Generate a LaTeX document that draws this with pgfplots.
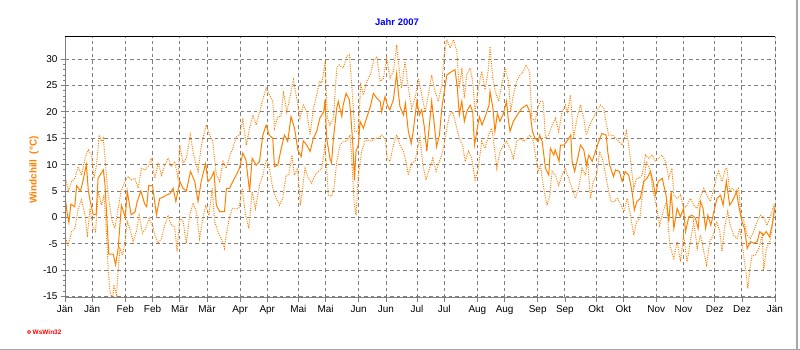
\documentclass[border=0pt]{standalone}
\usepackage{fontspec}
\setmainfont{Liberation Sans}
\usepackage{pgfplots}
\usepackage{pgfplotstable}
\pgfplotsset{compat=1.18}
\definecolor{wsorange}{RGB}{255,128,0}
\definecolor{gridgray}{RGB}{128,128,128}

\pgfplotstableread{
d v
0 4.2
1 1
2 -1
3 2.5
5 2
6 6
8 5
9 6.5
11 10
12 5
13 3
14.5 0.5
16 0.5
17 7.4
19.7 9
20.5 6.5
21.5 0
22.5 -7
24.8 -7
26 -9
27.3 -6
29 2.3
31 0
32 5
34 0.5
36 1
37 2.8
39 5
41 2.5
42 2
43 6
45 6
47 0.5
48.7 3.6
50.4 3.8
52 4.2
54 4.5
55.6 5.5
57 3
59 6.8
60.7 5.5
62.4 5
64.5 8.7
66.7 6.8
68.4 3
70 6.8
72.3 10.2
73.5 6.8
75 7.4
76.6 8.7
77.8 2.3
79.5 1.1
82 1.1
83 5.5
84.6 5.5
86.3 6.8
88 8
89.7 9.3
91.4 12.2
93 10.9
94.9 4.9
96.2 11.2
98.3 9.9
100 10.6
101.7 15.6
103.4 17.5
105 15.6
106.8 15
107.7 9.6
109.4 9.9
111 12.8
112.8 15.6
114.5 14.4
116.2 19.1
118 16.9
119.7 12.8
121.4 11.5
122.5 14.5
124.3 13.7
126 12.5
127.7 15
129.4 16.3
131 18.8
133 20
133.7 22.3
134.5 15
136.2 11.2
137 10.3
138 15
139.7 20.7
140.5 22
142.3 19.1
143 21.3
144.5 23.5
146.2 22.3
146.9 19.4
148 13.7
148.8 7
149.6 12.5
150.8 13.7
151.7 18.2
153.4 16.9
155 18.8
157 21
158.5 23.5
160.3 22.6
162 22
162.8 20
164.5 22.9
165.7 21.3
167 20.4
168.8 22.3
170.5 27.3
171.4 23.5
172.2 21
174 19.4
175 21.6
176.5 16.3
178 14
179 16.3
180.9 22
182.2 19.4
183.4 20.4
184.7 17.2
186 12.5
187 16.3
188.5 22
189.7 18.2
191 13.4
192.5 15.6
193.7 20.7
195 23.9
196.3 27
199 27.7
200.5 28
201.7 24.5
202.7 19.4
204 22
205.3 18.2
206.5 20
208.3 21.3
209.6 20
210.5 13.7
211.7 16.3
213 19.1
214.4 17.5
216 19.1
218 21.3
218.5 23.9
220 20.7
221 16.3
222.3 19.7
223.6 18.2
225.4 19.7
227 22
228 18.2
228.8 16.3
230.5 18.2
232.5 19.4
234.8 20.7
237.4 21.3
239 20
240.3 16.3
241.6 15
243.3 14.4
244 15.6
245.3 14.4
247 9.3
248.7 8
249.5 13.1
251.3 11.8
252 12.8
254 10.6
254.7 13.7
256.4 13.7
258 14.4
260 15.6
260.7 10.6
262 8.7
263.2 10.6
265 13.7
266.7 12.8
268 9.9
269.3 11.8
271 10.6
272.7 12.5
274.4 14.4
276 15.9
278.2 15.6
279 12.5
280 9.9
282 7.7
283 9
285 8.7
286.4 6.8
288 8.7
289.8 8
291.5 4.9
292.7 1.4
294 3
295.8 3.6
297.5 6.8
299.2 7.4
301 8.7
302.3 6.8
303.5 4.2
305 6.8
307 7.4
309 4.2
310.4 -0.8
311.6 4.9
313 -2.1
314.7 1.7
316.4 0.1
318 1.7
319 -2.7
320.7 0.1
322.4 0.4
324.1 -0.2
325.5 -2.1
326.7 3
328 1.7
329.3 -2.1
330.5 0.4
332 -1.5
333.6 1.1
335.2 3.6
337 4.2
338.3 2.3
340 6.8
341.7 2.3
343.8 3.6
345.2 4.9
346.3 2.3
348 -0.8
349.3 -2.1
350.7 -5.9
352.4 -4.6
354 -4.9
355.8 -4.6
357.2 -2.7
359 -3.4
360.5 -2.7
362.2 -3.7
363.5 -1.5
365 2
}\meantab

\pgfplotstableread{
d v
0 8
1.7 5
3.4 6.8
5.1 7.4
6.8 9.6
8.5 8
10.3 11.2
12 12.8
13.7 11.8
14.9 7.4
16.2 9.9
17.6 15.6
18.8 14.4
19.7 15
21 9.3
22.2 4.2
23.9 -0.2
25.6 -2.1
27.3 1.7
29 5.2
30.8 6.8
32.5 7.7
34.2 7.1
35.9 7.4
37.6 5.5
39.3 9.3
41 9
42.7 9.6
44.4 11.2
46.2 7.4
47.9 10.3
49.6 8
51.3 9.9
53 11.2
54.7 9.6
56.4 10.6
58.1 7.4
59 13.7
60.7 10.3
62.4 11.2
64.4 15.6
66.2 11.8
68.4 8.7
70.1 13.7
72.6 17.5
74.4 15.6
76 14.4
77.8 8
79.5 6.8
81.2 10.6
82.9 9.3
84.6 11.5
86.3 13.1
88 15.3
89.7 15.6
91.4 18.5
93.2 13.7
94.9 16.9
96.6 19.4
98.3 17.5
100 20
101.7 22.3
103.4 24.5
105.1 23.2
106.8 22
107.7 16.9
109.4 19.1
111.1 19.1
112.3 23.9
114 20
115.7 22.9
117.4 26.1
119.1 22.6
120.8 18.8
122.5 21.3
124.3 20
126 15.6
127.7 20.7
129.4 23.2
130.8 25.8
132 25.5
133.7 29.2
134.9 18.8
136.2 17.5
138 18.8
139.7 28.3
141 28.9
143 28.3
144.8 30.5
146.2 30.8
147.4 25.1
149 16.3
150.8 16.3
152 25.1
153.4 23.2
155.1 25.8
156.9 27
158.6 29.6
160.3 30.5
162 25.8
163.7 26.4
165.4 30.2
167.1 26.4
168.8 27.7
170.5 32.7
171.9 27.7
173 24.5
174.8 29.6
176.5 24.5
178.2 20.7
180 22.6
181.7 26.4
183.4 23.2
185.1 20
186.8 23.2
188.5 27
190.2 23.9
191.9 22
193.7 25.1
194.9 30.8
196.3 33.7
198 32.1
199.7 33.7
201.4 31.5
202.7 24.5
204 28.3
205.3 22.6
206.5 27
208.3 28.3
209.6 25.8
210.8 20
212.5 24.5
214.2 27.7
216 24.2
217.7 28.3
218.5 32.4
219.9 26.4
221.2 23.9
222.9 22
224.5 25.1
226.2 28.3
228 25.8
229.1 20
230.5 23.2
232.2 25.8
234 27
235.7 27.7
237 28.9
238.8 27.7
240 18.8
241.6 18.2
243.3 21
244.4 22
245.8 22
247 15
248.7 15.6
250.4 17.5
252.1 18.8
253.8 16.3
255.5 20
257.2 21.3
258.4 20
259.8 23.2
261.5 15
263.2 18.8
265 21.3
266.7 18.8
268 15.6
269.8 17.5
271.5 18.8
273.2 20
275.2 21.3
277 20.7
278 18.2
279.5 15.6
281.4 15.6
283.1 15
284.7 14.4
286.4 13.7
288.6 16.3
289.8 13.7
291 9.9
292.4 5.5
293.8 7.4
295 7.4
296.7 8
298.4 11.8
300.1 11.2
301.9 11.8
303.5 10.6
305.2 11.2
306.9 11.8
308.7 10.6
310.4 7.4
312 9.3
313 4.2
314.7 3.6
316.4 4.2
318 1.7
319.8 2.3
321.5 3.6
323.2 2.3
325 1.7
326.7 3.9
328.4 5.5
330 4.2
331.8 3
333.6 5.5
335.2 8
336 8.7
337.8 6.8
339.5 9.3
340.3 9.3
341.7 4.9
342.9 5.5
344.7 4.9
346.3 5.5
347.5 0.4
349 -0.8
350.7 -3.4
352.4 -4
354 -2.7
355.8 -0.8
357.5 0.4
359.2 0.1
360.9 -1.5
362.6 0.1
364.7 2.7
}\maxtab

\pgfplotstableread{
d v
0 -3.5
1.5 -5.5
3.4 -2.7
5.1 -2.1
6.8 1.7
8.5 3.3
10.3 0.4
11.5 -3.7
12.8 1.7
14.5 -2.1
15.7 -2.7
17.1 4.9
18.8 2.3
20 4.2
21 -0.8
22.2 -9.7
23.1 -14.1
24.4 -15.4
25.1 -12.8
26.5 -14.7
27.4 -9.7
28.2 -5.9
29.6 -7.2
30.8 -4.6
32 -0.8
33.3 -2.1
35 -4.6
36.7 -2.7
38.1 0.4
39.8 -3
41.5 -2.1
43.2 -0.2
45 -1.5
46.2 -3.4
47.9 -4.9
49.6 -4
51.3 -1.5
53 0.4
54.7 -1.5
56.4 -1.8
57.6 -6.5
59 -0.2
60.7 -0.8
62.4 -4.9
64.1 0.4
65.8 2.7
67.5 1.1
69.2 -4
70.9 -0.2
72.3 2.3
74 0.4
75.7 5.5
76.9 -0.8
78.6 -2.7
80.3 -4
82 -5.9
82.9 -3.4
84.3 -0.5
86 1.7
87.7 1.7
89.4 1.7
91.1 5.5
92.8 0.4
94.5 -2.1
96.2 4.9
97.9 1.7
100 6.1
101.7 8
103.4 10.9
105.1 9.3
106.8 5.5
108.5 3.6
110.2 2.3
111.9 3.6
113.7 8
115 8
116.7 11.8
117.9 8
119.6 9.3
121 2.3
121.7 4.2
123.4 9.3
125.1 7.4
126.8 6.5
128.5 8
130.3 8.7
132 9.3
133.7 13.7
135.4 4.2
137.1 4
138.3 5.5
139.7 10.6
141.4 13.7
143.1 14.4
144.8 14.4
146.5 15.6
147.4 11.2
148.6 3
149.6 0.4
150.8 8
152.5 12.5
154.2 14.4
155.9 14.7
157.6 14.4
159.4 15
161.1 15
162.8 15.6
164.5 15
165.7 11.2
167.1 10.6
168.8 13.7
170.5 15.6
172.2 13.7
174 12.5
175.3 10.6
176.5 8
178.2 10.3
180 10.6
181.2 13.1
182.5 15
184 9.9
185.6 7.1
187.4 9.3
189.1 11.2
190.8 8.7
192.5 10.6
194.2 12.5
196 16.3
197.6 19.4
199.3 20
201 17.5
202.7 15
204.4 13.7
205.7 10.6
207.4 12.5
209.1 11.2
210.8 7.1
212.5 9.3
214.2 14.4
216 13.1
217.7 15.6
219.4 16.9
221.2 11.8
222 9.3
223.6 12.5
225.4 13.7
227 14.4
228.8 13.1
230.5 11.2
232.2 14.4
234 15
235.7 14.4
237.4 15
239.1 15.6
240.8 14.4
242.1 11.2
243.3 8.7
244.4 9.9
246.1 5.5
247.8 2.3
249.2 4.2
250.4 8.7
252.1 8
253.8 6.1
255.5 8
257.2 9.3
258.9 7.4
260.7 5.5
262.4 3.6
264 5.5
265.8 9.3
267.5 8
268.7 10.6
270.1 3.6
271.5 6.8
273.2 8
274.9 12.5
276.6 10.6
278 8
279.2 5.5
280.7 3
282.4 3
284 3.6
285.5 2.7
287.4 1.1
289 3.6
290.7 0.4
292.4 -3.4
293.8 -0.8
295.5 -0.2
297.2 5.5
298.9 10.6
300.6 9.3
302.3 4.9
304 2.3
305.7 -1.5
307.5 1.1
309.2 3
310.9 -5.3
313 -7.8
314.7 -4.6
316.4 -8.4
318 -3.4
319.8 -8.4
321.5 -4.6
323.2 -0.8
325 -5.9
326.7 -3.4
328.4 -6.5
329.8 -9
331.5 -4.6
333.2 -3.4
335 -0.8
336.6 -2.7
337.8 -6.5
339 -2.1
340.7 1.1
342 -1.5
343.8 -3.4
345.5 -4
346.9 -2.1
348 -4.6
349.3 -8.4
350.3 -10.9
351 -13.5
352.1 -9.7
353.2 -7.2
354.9 -7.2
356.7 -5.9
358.4 -3.4
359.2 -10
360.6 -5.9
362.3 -4.6
363.5 -2.1
364.7 2.3
}\mintab

\begin{document}
\begin{tikzpicture}
\path[use as bounding box] (0bp,0bp) rectangle (800bp,350bp);
\draw[gray!70, line width=1.5bp] (797bp,0bp) -- (797bp,350bp);
\draw[gray!70, line width=1.5bp] (0bp,0.75bp) -- (800bp,0.75bp);
\node[text=blue, font=\bfseries\fontsize{9.5}{11}\selectfont] at (397bp,328bp) {Jahr 2007};
\node[rotate=90, text=wsorange, font=\bfseries\fontsize{10}{12}\selectfont] at (34bp,180bp) {Windchill\ \ (°C)};
\draw[red, line width=0.8bp] (29bp,18bp) circle (1.6bp);
\node[text=red, font=\bfseries\fontsize{6.5}{8}\selectfont, anchor=west, inner sep=0pt] at (32.5bp,18bp) {WsWin32};
\begin{axis}[
  at={(65bp,52bp)}, anchor=south west,
  scale only axis, width=710bp, height=261bp,
  xmin=0, xmax=365, ymin=-15.3, ymax=34.2,
  axis line style={draw=none},
  xtick={0,14,31,45,59,73,90,104,120,134,151,165,181,195,212,226,243,257,273,287,304,318,334,348,365},
  xticklabels={Jän,Jän,Feb,Feb,Mär,Mär,Apr,Apr,Mai,Mai,Jun,Jun,Jul,Jul,Aug,Aug,Sep,Sep,Okt,Okt,Nov,Nov,Dez,Dez,Jän},
  ytick={-15,-10,...,30},
  minor y tick num=4,
  minor x tick num=3,
  tick pos=left,
  tick align=outside,
  major tick length=4bp,
  minor tick length=2bp,
  tick style={gridgray, line width=0.8bp},
  grid=major,
  major grid style={gridgray, dash pattern=on 3.5bp off 3bp, line width=0.9bp},
  ticklabel style={font=\fontsize{10}{12}\selectfont, text=black},
  /pgf/number format/assume math mode=true,
  clip=true,
]
\addplot[wsorange, line width=1bp, dash pattern=on 1bp off 1.3bp] table[x=d,y=v] {\maxtab};
\addplot[wsorange, line width=1bp, dash pattern=on 1bp off 1.3bp] table[x=d,y=v] {\mintab};
\addplot[wsorange, line width=1bp] table[x=d,y=v] {\meantab};
\draw[black, line width=1bp] (rel axis cs:0,1) -- (rel axis cs:1,1) -- (rel axis cs:1,0);
\draw[gridgray, line width=2bp] (rel axis cs:0,1) -- (rel axis cs:0,0) -- (rel axis cs:1,0);
\end{axis}
\end{tikzpicture}
\end{document}
